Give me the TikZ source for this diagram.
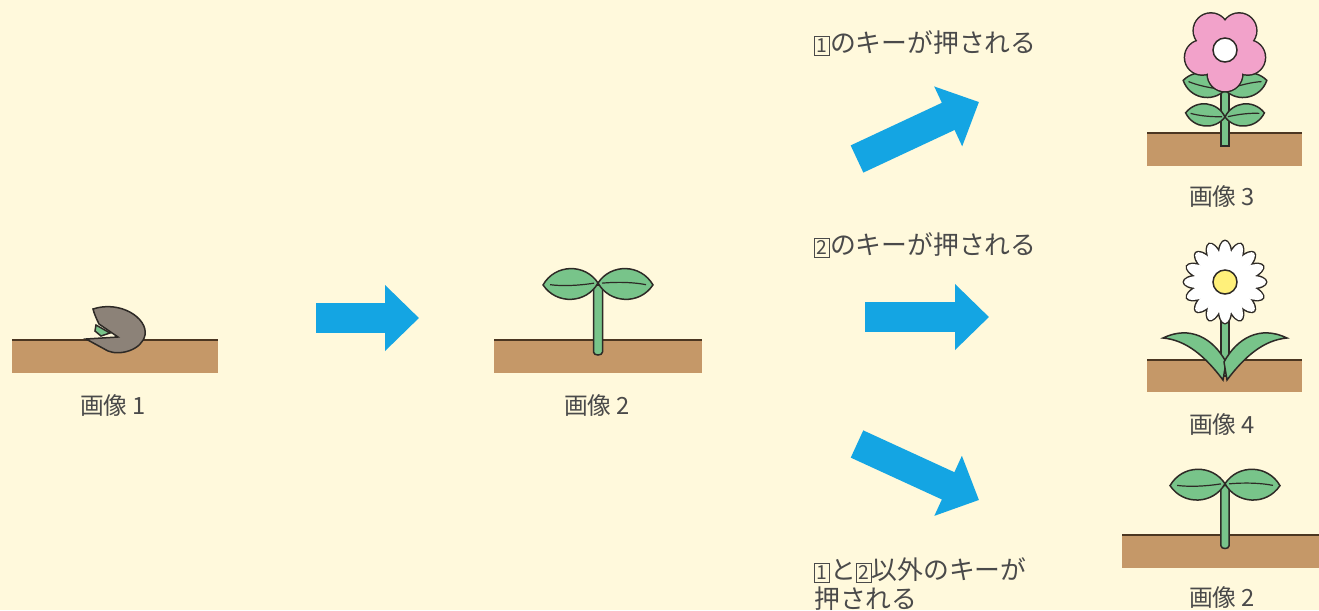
\documentclass[tikz,border=0pt]{standalone}
\usepackage{fontspec}
\newfontfamily\jp{Noto Sans CJK JP}
\usetikzlibrary{arrows.meta}

\definecolor{paper}{HTML}{FFF9DC}
\definecolor{soil}{HTML}{C59868}
\definecolor{soilline}{HTML}{4B3621}
\definecolor{leafgreen}{HTML}{78C48A}
\definecolor{ink}{HTML}{2E2A26}
\definecolor{seedgray}{HTML}{8C8278}
\definecolor{petalpink}{HTML}{F2A2CA}
\definecolor{daisyeye}{HTML}{FFF07A}
\definecolor{arrowblue}{HTML}{14A5E3}
\definecolor{txt}{HTML}{4A4A4A}

% boxed key number
\newcommand{\keynum}[1]{{\setlength{\fboxsep}{0.4pt}\setlength{\fboxrule}{0.6pt}\fbox{\fontsize{11pt}{11pt}\selectfont\makebox[7pt]{\rule[-1pt]{0pt}{9pt}#1}}}}

\tikzset{
  outline/.style={draw=ink, line width=1.5*0.02cm},
  leaf/.style={outline, fill=leafgreen},
  vein/.style={draw=ink, line width=1.2*0.02cm},
  blockarrow/.style={arrowblue, line width=0.6cm, -{Triangle[length=0.68cm, width=1.28cm]}},
  caption/.style={font=\jp\fontsize{13.5pt}{16pt}\selectfont, text=txt},
  keytext/.style={font=\jp\fontsize{14.7pt}{17pt}\selectfont, text=txt, align=left},
  % lens shaped leaf with a midrib, pointing along +x
  leafpic/.pic={
    \filldraw[leaf] (0,0) .. controls (12,-20) and (42,-21) .. (55,0)
      .. controls (42,21) and (12,20) .. (0,0) -- cycle;
    \draw[vein] (4,0) .. controls (20,-2) and (36,-2) .. (48,0);
  },
  % seedling: stem base at the origin on the soil line
  sprout/.pic={
    \filldraw[leaf] (-4.5,-55) -- (-4.5,12) .. controls (-4.5,16) and (4.5,16) .. (4.5,12) -- (4.5,-55) -- cycle;
    \pic[rotate=182] at (0,-57) {leafpic};
    \pic[rotate=-2] at (0,-57) {leafpic};
  },
}

\begin{document}
\begin{tikzpicture}[x=0.02cm, y=-0.02cm]
  \useasboundingbox (0,0) rectangle (1319,610);
  \fill[paper] (0,0) rectangle (1319,610);

  % Soil strips
  \foreach \xa/\ya/\xb/\yb in {12/340/218/373, 494/340/702/373, 1147/133/1302/166,
                               1147/360/1302/392, 1122/535/1319/568} {
    \fill[soil] (\xa,\ya) rectangle (\xb,\yb);
    \draw[soilline, line width=2*0.02cm] (\xa,\ya) -- (\xb,\ya);
  }

  % Seed
  \filldraw[outline, fill=seedgray] (93,309) .. controls (120,300) and (148,318) .. (145,335)
    .. controls (142,350) and (120,356) .. (108,351) -- (86,339) -- (118,337) -- (99,324)
    .. controls (96,318) and (94,313) .. (93,309) -- cycle;
  \filldraw[leaf] (96,325) -- (110,333) -- (101,336) -- (95,331) -- cycle;

  % Seedlings
  \pic at (598,340) {sprout};
  \pic[scale=0.9] at (1225,535) {sprout};

  % Pink flower
  \filldraw[leaf] (1221,70) rectangle (1229,146);
  \pic[rotate=167, scale=0.78] at (1225,90) {leafpic};
  \pic[rotate=13, scale=0.78] at (1225,90) {leafpic};
  \pic[rotate=174, scale=0.72] at (1225,117) {leafpic};
  \pic[rotate=6, scale=0.72] at (1225,117) {leafpic};
  \foreach \a in {90,162,...,450}
    \fill[ink] (1225,50) ++(\a:24) circle[radius=18.5];
  \foreach \a in {90,162,...,450}
    \fill[petalpink] (1225,50) ++(\a:24) circle[radius=17];
  \fill[petalpink] (1225,50) circle[radius=22];
  \filldraw[outline, fill=white] (1225,50) circle[radius=12];

  % Daisy
  \filldraw[leaf] (1221,300) rectangle (1229,376);
  \filldraw[leaf] (1223,380) .. controls (1205,356) and (1186,340) .. (1163,338)
    .. controls (1190,325) and (1213,338) .. (1226,362) -- cycle;
  \filldraw[leaf] (1227,380) .. controls (1245,356) and (1264,340) .. (1287,338)
    .. controls (1260,325) and (1237,338) .. (1224,362) -- cycle;
  \foreach \a in {0,22.5,...,337.5}
    \fill[ink, rotate around={\a:(1225,282)}] (1252,282) ellipse[x radius=15.5, y radius=7.5];
  \foreach \a in {0,22.5,...,337.5}
    \fill[white, rotate around={\a:(1225,282)}] (1252,282) ellipse[x radius=14, y radius=6];
  \fill[white] (1225,282) circle[radius=18];
  \filldraw[outline, fill=daisyeye] (1225,282) circle[radius=12];

  % Captions
  \node[caption] (img1) at (113,405) {画像 1};
  \node[caption] (img2) at (597,405) {画像 2};
  \node[caption] (img3) at (1222,196) {画像 3};
  \node[caption] (img4) at (1222,424) {画像 4};
  \node[caption] (img2b) at (1222,597) {画像 2};

  % Key conditions
  \node[keytext, anchor=west] (key1) at (808,43) {\keynum{1}のキーが押される};
  \node[keytext, anchor=west] (key2) at (808,245) {\keynum{2}のキーが押される};
  \node[keytext, anchor=north west] (keyx) at (808,551) {\keynum{1}と\keynum{2}以外のキーが\\押される};

  % Arrows
  \coordinate (a1s) at (316,318);  \coordinate (a1e) at (419,318);
  \coordinate (aus) at (857,159);  \coordinate (aue) at (979,102);
  \coordinate (ams) at (865,317);  \coordinate (ame) at (989,317);
  \coordinate (ads) at (857,444);  \coordinate (ade) at (979,500);
  \draw[blockarrow] (a1s) -- (a1e);
  \draw[blockarrow] (aus) -- (aue);
  \draw[blockarrow] (ams) -- (ame);
  \draw[blockarrow] (ads) -- (ade);
\end{tikzpicture}
\end{document}
